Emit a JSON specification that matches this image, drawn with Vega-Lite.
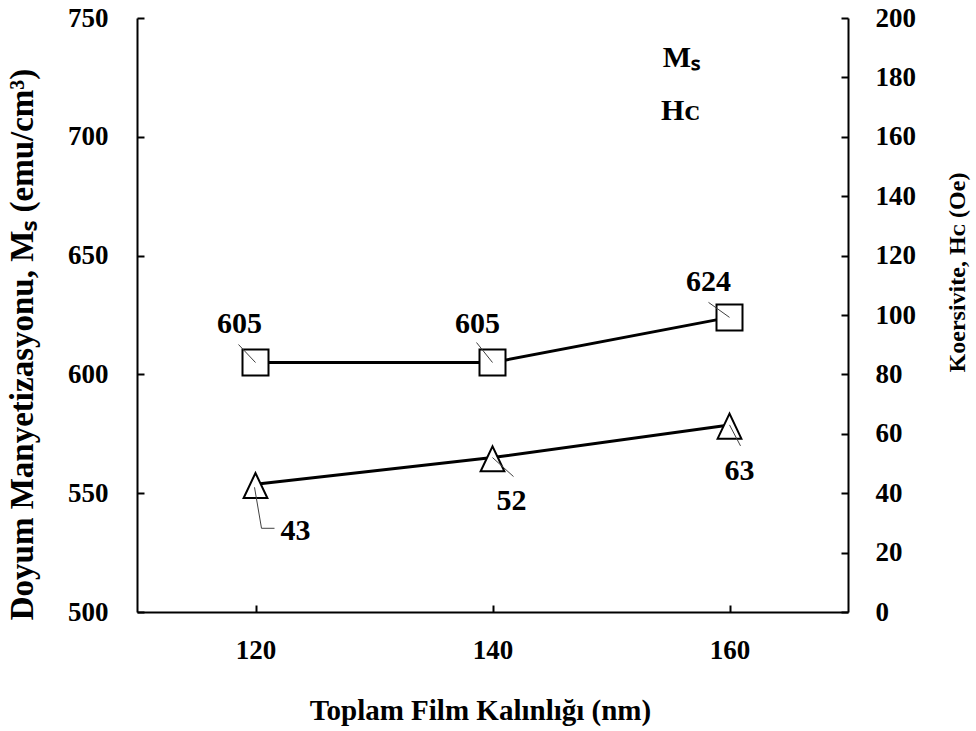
{
  "$schema": "https://vega.github.io/schema/vega-lite/v6.json",
  "width": 711,
  "height": 594,
  "autosize": {"type": "none"},
  "padding": {"left": 137, "top": 18, "right": 128, "bottom": 119},
  "background": "white",
  "config": {
    "view": {"stroke": null},
    "font": "Liberation Serif",
    "axis": {
      "grid": false,
      "domainColor": "black",
      "domainWidth": 2,
      "tickColor": "black",
      "tickWidth": 2,
      "tickSize": -7,
      "labelFont": "Liberation Serif",
      "labelFontSize": 27,
      "labelFontWeight": "bold",
      "labelColor": "black",
      "titleFont": "Liberation Serif",
      "titleFontWeight": "bold",
      "titleColor": "black"
    }
  },
  "data": {
    "values": [
      {"t": 120, "Ms": 605, "Hc": 43},
      {"t": 140, "Ms": 605, "Hc": 52},
      {"t": 160, "Ms": 624, "Hc": 63}
    ]
  },
  "encoding": {
    "x": {
      "field": "t",
      "type": "quantitative",
      "scale": {"domain": [110, 170], "nice": false, "zero": false},
      "axis": {
        "orient": "bottom",
        "values": [120, 140, 160],
        "labelPadding": 32,
        "title": "Toplam Film Kalınlığı (nm)",
        "titleFontSize": 29,
        "titleX": 343,
        "titleY": 107,
        "titleBaseline": "alphabetic",
        "titleAlign": "center"
      }
    }
  },
  "layer": [
    {
      "encoding": {
        "y": {
          "field": "Ms",
          "type": "quantitative",
          "scale": {"domain": [500, 750], "nice": false, "zero": false},
          "axis": {
            "orient": "left",
            "values": [500, 550, 600, 650, 700, 750],
            "labelPadding": 36,
            "title": "Doyum Manyetizasyonu, Mₛ (emu/cm³)",
            "titleFontSize": 33,
            "titleAngle": 270,
            "titleX": -115,
            "titleY": 326,
            "titleBaseline": "middle",
            "titleAlign": "center"
          }
        }
      },
      "layer": [
        {"mark": {"type": "line", "color": "black", "strokeWidth": 3}},
        {"mark": {"type": "point", "shape": "square", "size": 676, "filled": true, "fill": "white", "stroke": "black", "strokeWidth": 2, "opacity": 1}},
        {
          "transform": [{"filter": "datum.t == 120"}],
          "mark": {"type": "rule", "color": "#404040", "strokeWidth": 1, "xOffset": -17, "yOffset": -18, "x2Offset": 0, "y2Offset": 0},
          "encoding": {"x2": {"field": "t"}, "y2": {"field": "Ms"}}
        },
        {
          "transform": [{"filter": "datum.t == 140"}],
          "mark": {"type": "rule", "color": "#404040", "strokeWidth": 1, "xOffset": -16, "yOffset": -20, "x2Offset": 0, "y2Offset": 0},
          "encoding": {"x2": {"field": "t"}, "y2": {"field": "Ms"}}
        },
        {
          "transform": [{"filter": "datum.t == 160"}],
          "mark": {"type": "rule", "color": "#404040", "strokeWidth": 1, "xOffset": -21, "yOffset": -15, "x2Offset": 0, "y2Offset": 0},
          "encoding": {"x2": {"field": "t"}, "y2": {"field": "Ms"}}
        },
        {
          "transform": [{"filter": "datum.t == 120"}],
          "mark": {"type": "text", "font": "Liberation Serif", "fontSize": 30, "fontWeight": "bold", "color": "black", "align": "center", "baseline": "alphabetic", "dx": -16, "dy": -30},
          "encoding": {"text": {"field": "Ms", "type": "quantitative"}}
        },
        {
          "transform": [{"filter": "datum.t == 140"}],
          "mark": {"type": "text", "font": "Liberation Serif", "fontSize": 30, "fontWeight": "bold", "color": "black", "align": "center", "baseline": "alphabetic", "dx": -15, "dy": -30},
          "encoding": {"text": {"field": "Ms", "type": "quantitative"}}
        },
        {
          "transform": [{"filter": "datum.t == 160"}],
          "mark": {"type": "text", "font": "Liberation Serif", "fontSize": 30, "fontWeight": "bold", "color": "black", "align": "center", "baseline": "alphabetic", "dx": -21, "dy": -26},
          "encoding": {"text": {"field": "Ms", "type": "quantitative"}}
        }
      ]
    },
    {
      "encoding": {
        "y": {
          "field": "Hc",
          "type": "quantitative",
          "scale": {"domain": [0, 200], "nice": false, "zero": false},
          "axis": {
            "orient": "right",
            "values": [0, 20, 40, 60, 80, 100, 120, 140, 160, 180, 200],
            "labelPadding": 34,
            "title": "Koersivite, Hᴄ (Oe)",
            "titleFontSize": 24,
            "titleAngle": 270,
            "titleX": 109,
            "titleY": 254,
            "titleBaseline": "middle",
            "titleAlign": "center"
          }
        }
      },
      "layer": [
        {"mark": {"type": "line", "color": "black", "strokeWidth": 3}},
        {"mark": {"type": "point", "shape": "M0,-0.9L-0.95,1.1L0.95,1.1Z", "size": 625, "filled": true, "fill": "white", "stroke": "black", "strokeWidth": 2, "opacity": 1}},
        {
          "transform": [{"filter": "datum.t == 120"}],
          "mark": {"type": "rule", "color": "#404040", "strokeWidth": 1, "xOffset": -1, "yOffset": 3, "x2Offset": 6, "y2Offset": 44},
          "encoding": {"x2": {"field": "t"}, "y2": {"field": "Hc"}}
        },
        {
          "transform": [{"filter": "datum.t == 120"}],
          "mark": {"type": "rule", "color": "#404040", "strokeWidth": 1, "xOffset": 6, "yOffset": 44, "x2Offset": 19, "y2Offset": 44},
          "encoding": {"x2": {"field": "t"}, "y2": {"field": "Hc"}}
        },
        {
          "transform": [{"filter": "datum.t == 140"}],
          "mark": {"type": "rule", "color": "#404040", "strokeWidth": 1, "xOffset": 0, "yOffset": 0, "x2Offset": 21, "y2Offset": 19},
          "encoding": {"x2": {"field": "t"}, "y2": {"field": "Hc"}}
        },
        {
          "transform": [{"filter": "datum.t == 160"}],
          "mark": {"type": "rule", "color": "#404040", "strokeWidth": 1, "xOffset": 0, "yOffset": 0, "x2Offset": 11, "y2Offset": 21},
          "encoding": {"x2": {"field": "t"}, "y2": {"field": "Hc"}}
        },
        {
          "transform": [{"filter": "datum.t == 120"}],
          "mark": {"type": "text", "font": "Liberation Serif", "fontSize": 30, "fontWeight": "bold", "color": "black", "align": "center", "baseline": "alphabetic", "dx": 40, "dy": 56},
          "encoding": {"text": {"field": "Hc", "type": "quantitative"}}
        },
        {
          "transform": [{"filter": "datum.t == 140"}],
          "mark": {"type": "text", "font": "Liberation Serif", "fontSize": 30, "fontWeight": "bold", "color": "black", "align": "center", "baseline": "alphabetic", "dx": 19, "dy": 52},
          "encoding": {"text": {"field": "Hc", "type": "quantitative"}}
        },
        {
          "transform": [{"filter": "datum.t == 160"}],
          "mark": {"type": "text", "font": "Liberation Serif", "fontSize": 30, "fontWeight": "bold", "color": "black", "align": "center", "baseline": "alphabetic", "dx": 10, "dy": 55},
          "encoding": {"text": {"field": "Hc", "type": "quantitative"}}
        },
        {
          "transform": [
            {"fold": ["Ms", "Hc"], "as": ["series", "value"]},
            {"filter": "false"}
          ],
          "mark": {"type": "point", "filled": true, "fill": "white", "stroke": "black", "strokeWidth": 2.5},
          "encoding": {
            "shape": {
              "field": "series",
              "type": "nominal",
              "scale": {
                "domain": ["Ms", "Hc"],
                "range": [
                  "M-1,0H-0.346M0.346,0H1M-0.346,-0.346H0.346V0.346H-0.346Z",
                  "M-1,0H-0.15M0.15,0H1M0,-0.32L-0.3,0.32L0.3,0.32Z"
                ]
              },
              "legend": {
                "orient": "none",
                "legendX": 576,
                "legendY": 12,
                "padding": 0,
                "title": null,
                "symbolSize": 2704,
                "symbolStrokeWidth": 2.5,
                "symbolStrokeColor": "black",
                "symbolFillColor": "white",
                "symbolOpacity": 1,
                "labelFont": "Liberation Serif",
                "labelFontSize": 30,
                "labelFontWeight": "bold",
                "labelColor": "black",
                "labelAlign": "right",
                "labelOffset": -68,
                "rowPadding": 10,
                "labelExpr": "datum.label == 'Ms' ? 'Mₛ' : 'Hᴄ'"
              }
            }
          }
        }
      ]
    }
  ],
  "resolve": {"scale": {"y": "independent"}}
}
